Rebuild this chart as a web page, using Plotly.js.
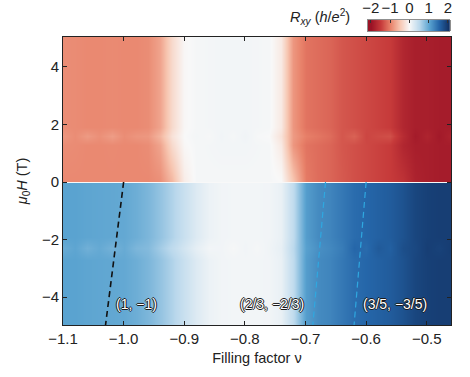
<!DOCTYPE html>
<html>
<head>
<meta charset="utf-8">
<script src="https://cdn.plot.ly/plotly-3.0.1.min.js"></script>
<style>html,body{margin:0;padding:0;background:#fff;}#chart{width:470px;height:377px;}</style>
</head>
<body>
<div id="chart"></div>
<script>
// Filling factor grid (x) and magnetic field rows (y)
const fillingFactor = [-1.10,-1.08,-1.06,-1.04,-1.02,-1.00,-0.98,-0.96,-0.94,-0.92,-0.90,-0.88,-0.86,-0.84,-0.82,-0.80,-0.78,-0.76,-0.74,-0.72,-0.70,-0.68,-0.66,-0.64,-0.62,-0.60,-0.58,-0.56,-0.54,-0.52,-0.50,-0.48,-0.46];
const fieldRows = [-5, -2.7, -2.3, -1.9, -0.05, 0, 0.05, 1.3, 1.6, 1.9, 5];

// R_xy profiles (h/e^2) read along the filling factor axis
const rxyPosTop   = [-0.92,-0.93,-0.95,-0.95,-0.94,-0.95,-0.95,-0.92,-0.75,-0.30,-0.02,0.03,0.04,0.05,0.05,0.05,0.04,0.03,-0.15,-0.85,-1.10,-1.15,-1.20,-1.30,-1.35,-1.40,-1.45,-1.50,-1.75,-1.85,-1.85,-1.88,-1.88];
const rxyPosNoise = [-0.85,-0.92,-0.82,-0.90,-0.80,-0.92,-0.86,-0.84,-0.62,-0.22,0.00,0.04,0.02,0.06,0.03,0.07,0.02,0.00,-0.22,-0.82,-1.02,-1.08,-1.15,-1.30,-1.22,-1.42,-1.38,-1.35,-1.68,-1.90,-1.78,-1.92,-1.80];
const rxyPosLow   = [-0.95,-0.95,-0.95,-0.95,-0.95,-0.95,-0.95,-0.95,-0.90,-0.60,-0.12,0.03,0.03,0.03,0.03,0.03,0.03,0.03,0.00,-0.50,-1.05,-1.15,-1.20,-1.28,-1.35,-1.40,-1.45,-1.50,-1.60,-1.80,-1.85,-1.88,-1.88];
const rxyZero     = [0,0,0,0,0,0,0,0,0,0,0,0,0,0,0,0,0,0,0,0,0,0,0,0,0,0,0,0,0,0,0,0,0];
const rxyNeg      = [1.00,1.00,0.98,0.97,0.96,0.95,0.90,0.82,0.70,0.55,0.38,0.22,0.10,0.06,0.05,0.05,0.05,0.06,0.12,0.45,1.05,1.20,1.25,1.35,1.45,1.50,1.55,1.60,1.70,1.82,1.88,1.90,1.90];
const rxyNegNoise = [0.92,0.98,0.88,0.94,0.86,0.93,0.82,0.78,0.62,0.46,0.30,0.15,0.05,0.06,0.02,0.06,0.03,0.07,0.14,0.48,1.02,1.16,1.22,1.32,1.50,1.46,1.62,1.56,1.74,1.80,1.90,1.86,1.92];

const rxyGrid = [rxyNeg, rxyNeg, rxyNegNoise, rxyNeg, rxyNeg, rxyZero, rxyPosLow, rxyPosTop, rxyPosNoise, rxyPosTop, rxyPosTop];

// Dashed guide lines
const guide1X = [-1.00, -1.03], guide1Y = [0, -5];
const guide2X = [-0.667, -0.688], guide2Y = [0, -5];
const guide3X = [-0.600, -0.620], guide3Y = [0, -5];

// Plateau labels
const labelText = ['(1, \u22121)', '(2/3, \u22122/3)', '(3/5, \u22123/5)'];
const labelX = [-0.978, -0.755, -0.552];
const labelY = [-4.25, -4.25, -4.25];

// Colour bar ticks
const cbTicks = [-2, -1, 0, 1, 2];

const scale = [
  [0, '#9b1326'], [0.125, '#c63a3a'], [0.25, '#e8826a'], [0.375, '#f7c6b1'],
  [0.5, '#f8f8f8'], [0.625, '#bad8ec'], [0.75, '#5aa3d0'], [0.875, '#2566a9'], [1, '#133467']
];

const FONT = 'Liberation Sans, Arial, Helvetica, sans-serif';

const traces = [
  {type: 'heatmap', x: fillingFactor, y: fieldRows, z: rxyGrid, colorscale: scale,
   zmin: -2, zmax: 2, zsmooth: 'best', showscale: false, hoverinfo: 'skip'},
  {type: 'scatter', mode: 'lines', x: guide1X, y: guide1Y, line: {color: '#111', width: 1.6, dash: '6px,4px'}, hoverinfo: 'skip'},
  {type: 'scatter', mode: 'lines', x: guide2X, y: guide2Y, line: {color: '#2fa8e0', width: 1.2, dash: '6px,4px'}, hoverinfo: 'skip'},
  {type: 'scatter', mode: 'lines', x: guide3X, y: guide3Y, line: {color: '#2fa8e0', width: 1.2, dash: '6px,4px'}, hoverinfo: 'skip'},
  {type: 'heatmap', x: cbTicks, y: [0], z: [cbTicks], xaxis: 'x2', yaxis: 'y2', colorscale: scale,
   zmin: -2, zmax: 2, zsmooth: 'best', showscale: false, hoverinfo: 'skip'}
];

const annotations = labelText.map((t, i) => ({
  x: labelX[i], y: labelY[i], xref: 'x', yref: 'y', text: t, showarrow: false,
  font: {family: FONT, size: 14, color: '#ffffff',
         shadow: '1px 0 0 #1a1a1a, -1px 0 0 #1a1a1a, 0 1px 0 #1a1a1a, 0 -1px 0 #1a1a1a'}
}));
annotations.push({
  x: 0.745, y: 0.963, xref: 'paper', yref: 'paper', xanchor: 'right', yanchor: 'middle',
  text: '<i>R</i><sub><i>xy</i></sub> (<i>h</i>/<i>e</i><sup>2</sup>)', showarrow: false,
  font: {family: FONT, size: 14.5, color: '#222'}
});

const layout = {
  width: 470, height: 377,
  margin: {l: 63, r: 19, t: 5, b: 52},
  paper_bgcolor: '#fff', plot_bgcolor: '#fff',
  font: {family: FONT, size: 15, color: '#222'},
  showlegend: false,
  xaxis: {
    range: [-1.1, -0.46], tickvals: [-1.1, -1.0, -0.9, -0.8, -0.7, -0.6, -0.5], tickformat: '.1f',
    ticks: 'inside', ticklen: 4, tickcolor: '#222', showline: true, linecolor: '#222', linewidth: 1,
    mirror: 'ticks', showgrid: false, zeroline: false, tickfont: {family: FONT, size: 15, color: '#222'},
    title: {text: 'Filling factor \u03bd', font: {family: FONT, size: 14.5, color: '#222'}, standoff: 6}
  },
  yaxis: {
    domain: [0, 0.9], range: [-4.97, 5.04], tickvals: [-4, -2, 0, 2, 4],
    ticks: 'inside', ticklen: 4, tickcolor: '#222', showline: true, linecolor: '#222', linewidth: 1,
    mirror: 'ticks', showgrid: false, zeroline: false, tickfont: {family: FONT, size: 15, color: '#222'},
    title: {text: '<i>\u03bc</i><sub>0</sub><i>H</i> (T)', font: {family: FONT, size: 14.5, color: '#222'}, standoff: 10}
  },
  xaxis2: {
    domain: [0.786, 0.997], anchor: 'y2', side: 'top', range: [-2.15, 2.1], tickvals: cbTicks,
    ticks: 'inside', ticklen: 3, tickcolor: '#333', showline: true, linecolor: '#444', linewidth: 0.6,
    mirror: true, showgrid: false, zeroline: false, tickfont: {family: FONT, size: 15, color: '#222'}
  },
  yaxis2: {
    domain: [0.919, 0.953], anchor: 'x2', range: [-0.5, 0.5], showticklabels: false, ticks: '',
    showline: true, linecolor: '#444', linewidth: 0.6, mirror: true, showgrid: false, zeroline: false
  },
  annotations: annotations
};

Plotly.newPlot('chart', traces, layout, {staticPlot: true, displayModeBar: false});
</script>
</body>
</html>
